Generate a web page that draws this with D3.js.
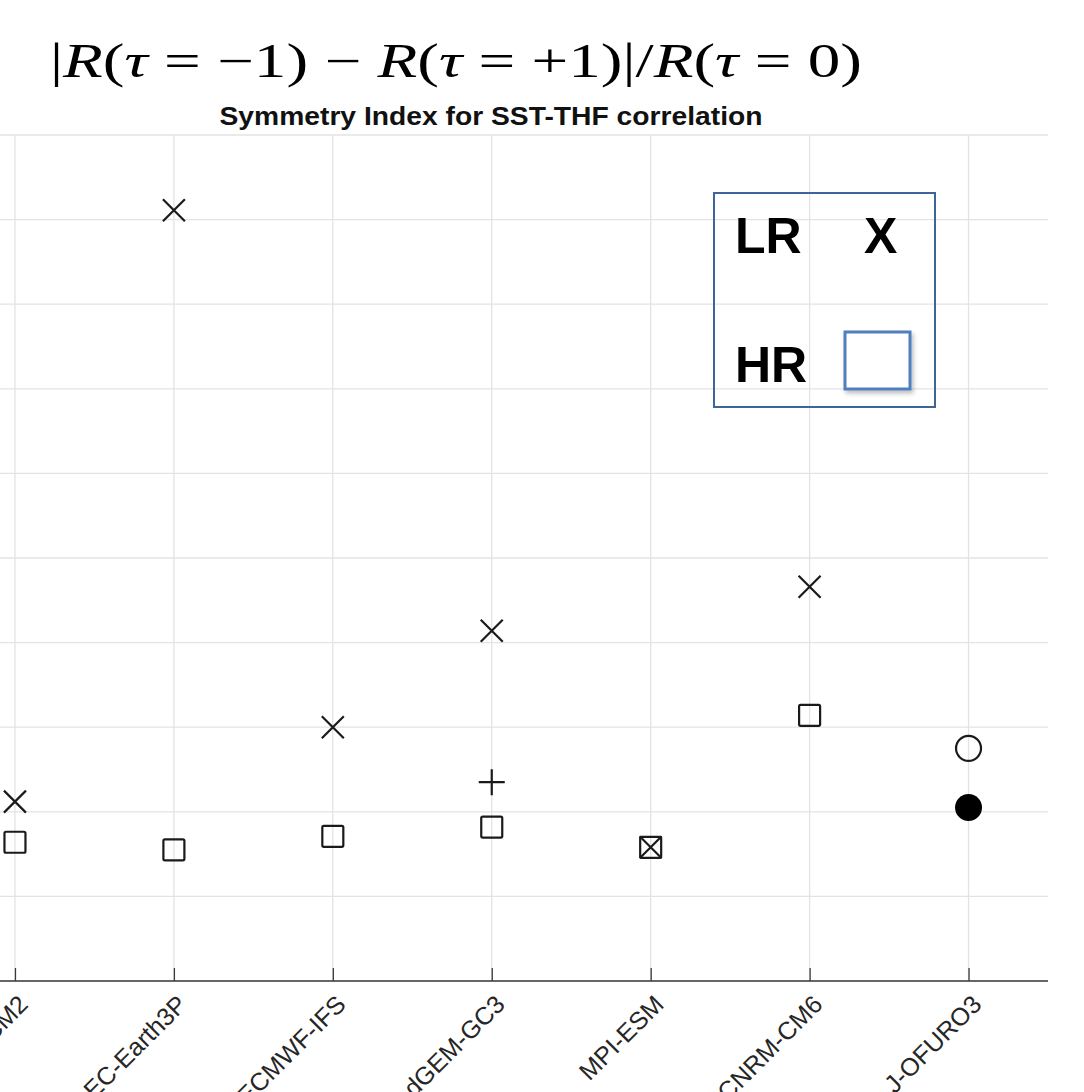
<!DOCTYPE html>
<html lang="en">
<head>
<meta charset="UTF-8">
<title>Symmetry Index for SST-THF correlation</title>
<style>
  body { margin: 0; background: #fff; }
  svg { display: block; }
</style>
</head>
<body>
<svg id="cont" width="1084" height="1092">
  <defs>
    <filter id="shadow" x="-20%" y="-20%" width="150%" height="150%">
      <feDropShadow dx="2" dy="3" stdDeviation="2" flood-color="#000" flood-opacity="0.25"/>
    </filter>
  </defs>
  <g id="grid"></g>
  <g id="xaxis"></g>
  <g id="marks"></g>
  <g id="legend"></g>
  <g id="titles"></g>
</svg>
<script src="https://cdn.jsdelivr.net/npm/d3@7"></script>
<script>
// values
let models = ["CMCC-CM2", "EC-Earth3P", "ECMWF-IFS", "HadGEM-GC3", "MPI-ESM", "CNRM-CM6", "J-OFURO3"]
let lrValues = [0.212, 0.911, 0.300, 0.414, 0.158, 0.466, null]   // X markers
let hrValues = [0.164, 0.155, 0.171, 0.182, 0.158, 0.314, null]   // squares
let plusModels = ["HadGEM-GC3"]
let plusValues = [0.235]
let obsOpen = [0.275]     // J-OFURO3 open circle
let obsFilled = [0.205]   // J-OFURO3 filled circle
let yTicks = [0, 0.1, 0.2, 0.3, 0.4, 0.5, 0.6, 0.7, 0.8, 0.9, 1.0]

let svg = d3.select("#cont")
let ink = "#1a1a1a"

let x = d3.scalePoint()
  .domain(models)
  .range([-64.5, 1048])
  .padding(0.5)
let y = d3.scaleLinear()
  .domain([0, 1])
  .range([981, 135])

// grid
let grid = d3.select("#grid")
grid.selectAll("line.h")
  .data(yTicks)
  .enter().append("line")
  .attr("class", "h")
  .attr("x1", 0).attr("x2", 1048)
  .attr("y1", d => y(d)).attr("y2", d => y(d))
  .attr("stroke", "#e3e3e3").attr("stroke-width", 1.3)
grid.selectAll("line.v")
  .data(models)
  .enter().append("line")
  .attr("class", "v")
  .attr("x1", d => x(d)).attr("x2", d => x(d))
  .attr("y1", y(1)).attr("y2", y(0))
  .attr("stroke", "#e3e3e3").attr("stroke-width", 1.3)

// x axis, ticks pointing inward, rotated labels
let xaxis = d3.axisBottom(x).tickSize(-13).tickSizeOuter(0)
let gx = d3.select("#xaxis")
  .attr("transform", "translate(0," + y(0) + ")")
  .call(xaxis)
gx.select(".domain").attr("stroke", "#3a3a3a").attr("stroke-width", 1.5)
  .attr("d", "M0,0H1048")
gx.selectAll(".tick line").attr("stroke", "#3a3a3a").attr("stroke-width", 1.3)
gx.selectAll(".tick text")
  .attr("y", 0).attr("dy", 0)
  .attr("text-anchor", "end")
  .attr("transform", "translate(14,25) rotate(-45)")
  .attr("fill", "#262626")
  .style("font-family", "'Liberation Sans', Arial, Helvetica, sans-serif")
  .style("font-size", "25px")

// markers
let marks = d3.select("#marks")
let crossPath = s => `M${-s},${-s}L${s},${s}M${-s},${s}L${s},${-s}`
let lr = models.map((m, i) => ({m: m, v: lrValues[i]})).filter(d => d.v != null)
let hr = models.map((m, i) => ({m: m, v: hrValues[i]})).filter(d => d.v != null)

marks.selectAll("path.lr")
  .data(lr)
  .enter().append("path")
  .attr("class", "lr")
  .attr("transform", d => `translate(${x(d.m)},${y(d.v)})`)
  .attr("d", crossPath(11))
  .attr("fill", "none").attr("stroke", ink).attr("stroke-width", 2.2)

marks.selectAll("rect.hr")
  .data(hr)
  .enter().append("rect")
  .attr("class", "hr")
  .attr("x", d => x(d.m) - 10.5).attr("y", d => y(d.v) - 10.5)
  .attr("width", 21).attr("height", 21).attr("rx", 1.5)
  .attr("fill", "none").attr("stroke", ink).attr("stroke-width", 2.2)

marks.selectAll("path.plus")
  .data(plusModels.map((m, i) => ({m: m, v: plusValues[i]})))
  .enter().append("path")
  .attr("class", "plus")
  .attr("transform", d => `translate(${x(d.m)},${y(d.v)})`)
  .attr("d", "M-13,0H13M0,-13V13")
  .attr("fill", "none").attr("stroke", ink).attr("stroke-width", 2.2)

let obsModel = models[models.length - 1]
marks.selectAll("circle.open")
  .data(obsOpen)
  .enter().append("circle")
  .attr("class", "open")
  .attr("cx", x(obsModel)).attr("cy", d => y(d)).attr("r", 12.5)
  .attr("fill", "none").attr("stroke", ink).attr("stroke-width", 2.2)
marks.selectAll("circle.filled")
  .data(obsFilled)
  .enter().append("circle")
  .attr("class", "filled")
  .attr("cx", x(obsModel)).attr("cy", d => y(d)).attr("r", 13.5)
  .attr("fill", "#000")

// legend box
let legend = d3.select("#legend")
legend.append("rect")
  .attr("x", 714).attr("y", 193).attr("width", 221).attr("height", 214)
  .attr("fill", "none").attr("stroke", "#3f6598").attr("stroke-width", 2)
let legendFont = "'Liberation Sans', Arial, Helvetica, sans-serif"
legend.append("text").text("LR")
  .attr("x", 735).attr("y", 253)
  .attr("font-family", legendFont).attr("font-weight", "bold").attr("font-size", 50)
legend.append("text").text("X")
  .attr("x", 864).attr("y", 253)
  .attr("font-family", legendFont).attr("font-weight", "bold").attr("font-size", 50)
legend.append("text").text("HR")
  .attr("x", 735).attr("y", 382)
  .attr("font-family", legendFont).attr("font-weight", "bold").attr("font-size", 50)
legend.append("rect")
  .attr("x", 845).attr("y", 332).attr("width", 65).attr("height", 57)
  .attr("fill", "#fff").attr("stroke", "#4f80bd").attr("stroke-width", 3)
  .attr("filter", "url(#shadow)")

// titles
let titles = d3.select("#titles")
let formula = titles.append("text")
  .attr("x", 50).attr("y", 77)
  .attr("font-family", "'Liberation Serif', 'DejaVu Serif', serif")
  .attr("font-size", 48)
  .attr("fill", "#000")
  .attr("textLength", 812)
  .attr("lengthAdjust", "spacingAndGlyphs")
let parts = [
  ["|", false], ["R", true], ["(", false], ["τ", true], [" = −1) − ", false],
  ["R", true], ["(", false], ["τ", true], [" = +1)|/", false],
  ["R", true], ["(", false], ["τ", true], [" = 0)", false]
]
formula.selectAll("tspan")
  .data(parts)
  .enter().append("tspan")
  .text(d => d[0])
  .attr("font-style", d => d[1] ? "italic" : "normal")

titles.append("text")
  .text("Symmetry Index for SST-THF correlation")
  .attr("x", 491).attr("y", 125)
  .attr("text-anchor", "middle")
  .attr("font-family", "'Liberation Sans', Arial, Helvetica, sans-serif")
  .attr("font-weight", "bold")
  .attr("font-size", 26)
  .attr("fill", "#111")
  .attr("textLength", 543)
  .attr("lengthAdjust", "spacingAndGlyphs")
</script>
</body>
</html>
